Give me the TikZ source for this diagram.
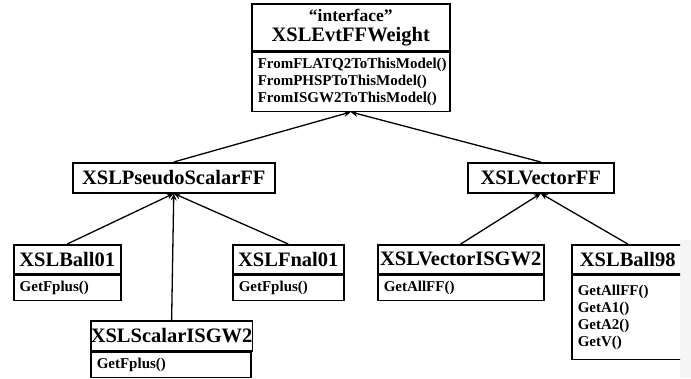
\documentclass[tikz,border=0pt]{standalone}
\usepackage{fontspec}
\setmainfont{Liberation Serif}
\usetikzlibrary{arrows.meta}
\tikzset{
  cls/.style={draw, line width=1.5pt, anchor=north west, inner sep=0pt,
    font=\bfseries\fontsize{20.5}{22}\selectfont},
  ops/.style={draw, line width=1.5pt, anchor=north west, inner xsep=6pt,
    inner ysep=0pt, align=left, font=\bfseries\fontsize{15}{17}\selectfont},
  gen/.style={line width=1.3pt, -{Stealth[length=7pt,width=6pt]}}
}
\begin{document}
\begin{tikzpicture}[x=1pt, y=-1pt]
  \useasboundingbox (0,0) rectangle (691,378);
  \fill[gray!8] (680,240) rectangle (691,378);
  \clip (0,0) rectangle (680,378);

  \coordinate (T) at (251,3);
  \coordinate (P) at (72,162);
  \coordinate (V) at (467,162);
  \coordinate (B1) at (13,244);
  \coordinate (F1) at (232,244);
  \coordinate (S2) at (90,320);
  \coordinate (V2) at (377,244);
  \coordinate (B9) at (571,244);

  % interface
  \node[cls, minimum width=198, minimum height=47, align=center] (weight) at (T)
    {{\fontsize{17.5}{19}\selectfont “interface”}\\[-2pt]XSLEvtFFWeight};
  \node[ops, text width=186, minimum height=59] (weightops) at (weight.south west)
    {FromFLATQ2ToThisModel()\\FromPHSPToThisModel()\\FromISGW2ToThisModel()};

  % middle level
  \node[cls, minimum width=202, minimum height=30] (pseudo) at (P) {XSLPseudoScalarFF};
  \node[cls, minimum width=146, minimum height=30] (vector) at (V) {XSLVectorFF};

  % bottom level
  \node[cls, minimum width=107, minimum height=29] (ball01) at (B1) {XSLBall01};
  \node[ops, text width=95, minimum height=25] (ball01ops) at (ball01.south west) {GetFplus()};

  \node[cls, minimum width=111, minimum height=29] (fnal01) at (F1) {XSLFnal01};
  \node[ops, text width=99, minimum height=25] (fnal01ops) at (fnal01.south west) {GetFplus()};

  \node[cls, minimum width=160, minimum height=30] (scalar) at (S2) {XSLScalarISGW2};
  \node[ops, text width=148, minimum height=25] (scalarops) at (scalar.south west) {GetFplus()};

  \node[cls, minimum width=166, minimum height=29] (visgw) at (V2) {XSLVectorISGW2};
  \node[ops, text width=154, minimum height=25] (visgwops) at (visgw.south west) {GetAllFF()};

  \node[cls, minimum width=112, minimum height=29] (ball98) at (B9) {XSLBall98};
  \node[ops, text width=100, minimum height=84] (ball98ops) at (ball98.south west)
    {GetAllFF()\\GetA1()\\GetA2()\\GetV()};

  % generalisation arrows
  \draw[gen] (pseudo.north) -- (weightops.south);
  \draw[gen] (vector.north) -- (weightops.south);
  \draw[gen] (ball01.north) -- (pseudo.south);
  \draw[gen] (fnal01.north) -- (pseudo.south);
  \draw[gen] (scalar.north) -- (pseudo.south);
  \draw[gen] (visgw.north) -- (vector.south);
  \draw[gen] (ball98.north) -- (vector.south);
\end{tikzpicture}
\end{document}
